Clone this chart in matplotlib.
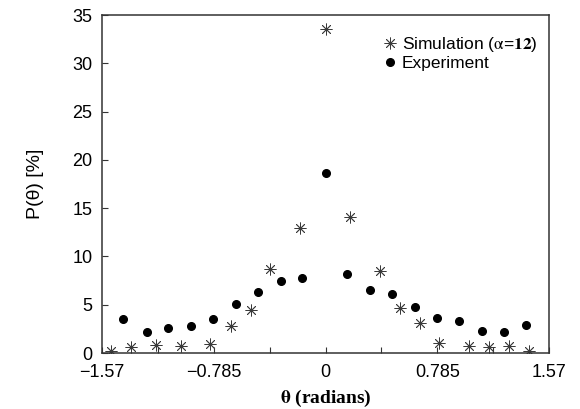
import numpy as np
import matplotlib
matplotlib.use("Agg")
import matplotlib.pyplot as plt

plt.rcParams['font.family'] = ['Liberation Sans', 'DejaVu Sans']
plt.rcParams['mathtext.fontset'] = 'stix'

# Simulation (alpha = 12)
sim_theta = [-1.506, -1.365, -1.19, -1.016, -0.808, -0.663, -0.525, -0.389, -0.176,
             0.0, 0.171, 0.384, 0.522, 0.662, 0.798, 1.011, 1.152, 1.287, 1.428]
sim_p = [0.24, 0.62, 0.80, 0.69, 0.96, 2.76, 4.45, 8.73, 12.98,
         33.5, 14.05, 8.46, 4.69, 3.07, 1.0, 0.69, 0.59, 0.72, 0.24]

# Experiment
exp_theta = [-1.421, -1.257, -1.105, -0.946, -0.789, -0.632, -0.471, -0.316, -0.162,
             0.0, 0.154, 0.311, 0.468, 0.627, 0.782, 0.941, 1.10, 1.254, 1.411]
exp_p = [3.52, 2.14, 2.56, 2.80, 3.49, 5.04, 6.35, 7.49, 7.73,
         18.6, 8.15, 6.49, 6.07, 4.76, 3.62, 3.35, 2.24, 2.21, 2.93]

xticks = [-1.57, -0.785, 0, 0.785, 1.57]
xticklabels = ['\u22121.57', '\u22120.785', '0', '0.785', '1.57']
xminor = [-1.1775, -0.3925, 0.3925, 1.1775]
yticks = [0, 5, 10, 15, 20, 25, 30, 35]

fig = plt.figure(figsize=(5.8, 4.09), dpi=100)
ax = fig.add_axes([102/580, 56/409, 447/580, 338/409])

ax.plot(sim_theta, sim_p, linestyle='none', marker=(8, 2, 0), markersize=8.5,
        markeredgewidth=0.6, color='#3a3a3a',
        label=r'Simulation ($\mathrm{\alpha}$=$\mathbf{12}$)')
ax.plot(exp_theta, exp_p, linestyle='none', marker='o', markersize=5.5,
        color='black', label='Experiment')

ax.set_xlim(-1.57, 1.57)
ax.set_ylim(0, 35)
ax.set_xticks(xticks)
ax.set_xticklabels(xticklabels)
ax.set_xticks(xminor, minor=True)
ax.set_yticks(yticks)

ax.tick_params(axis='both', which='both', direction='in', top=False, right=False,
               labelsize=13, width=0.8, color='#333333')
ax.tick_params(axis='x', which='both', pad=8)
ax.tick_params(axis='y', which='both', pad=7)
ax.tick_params(axis='both', which='both', length=4)
for s in ax.spines.values():
    s.set_linewidth(1.1)
    s.set_color('#333333')

ax.set_xlabel(r'$\mathbf{\theta}$ (radians)', fontsize=14, fontweight='bold',
              family=['Liberation Serif'], labelpad=5)
ax.set_ylabel('P(\u03b8) [%]', fontsize=14, labelpad=20)

leg = ax.legend(loc='upper right', frameon=False, fontsize=12.5, handletextpad=0.1,
                handlelength=1.2, labelspacing=0.1, borderaxespad=0.0,
                borderpad=0.2, bbox_to_anchor=(1 - 8/447, 1 - 17/338))

fig.savefig('out.png', dpi=100)
